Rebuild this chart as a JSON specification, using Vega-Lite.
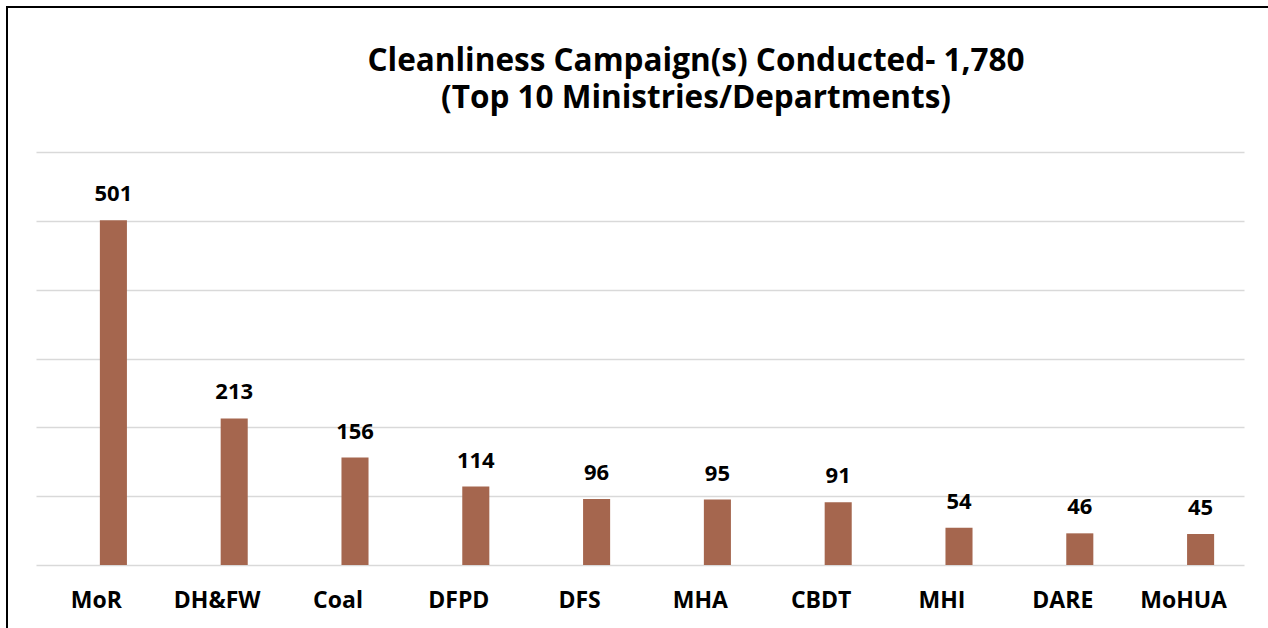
{
  "$schema": "https://vega.github.io/schema/vega-lite/v6.json",
  "autosize": "none",
  "padding": {"left": 7, "top": 7, "right": -3, "bottom": -3},
  "width": 1264,
  "height": 624,
  "background": "white",
  "config": {
    "view": {"stroke": "black", "strokeWidth": 2},
    "font": "Open Sans"
  },
  "title": {
    "text": ["Cleanliness Campaign(s) Conducted- 1,780", "(Top 10 Ministries/Departments)"],
    "anchor": "middle",
    "dx": 57,
    "baseline": "top",
    "dy": 111,
    "fontSize": 31.5,
    "lineHeight": 37,
    "font": "Open Sans",
    "fontWeight": "bold",
    "color": "black"
  },
  "data": {
    "values": [
      {"dept": "MoR", "count": 501},
      {"dept": "DH&FW", "count": 213},
      {"dept": "Coal", "count": 156},
      {"dept": "DFPD", "count": 114},
      {"dept": "DFS", "count": 96},
      {"dept": "MHA", "count": 95},
      {"dept": "CBDT", "count": 91},
      {"dept": "MHI", "count": 54},
      {"dept": "DARE", "count": 46},
      {"dept": "MoHUA", "count": 45}
    ]
  },
  "encoding": {
    "x": {
      "field": "dept",
      "type": "nominal",
      "sort": null,
      "scale": {"range": [29, 1237], "paddingInner": 0, "paddingOuter": 0},
      "axis": {
        "title": null,
        "orient": "bottom",
        "offset": -66,
        "domain": false,
        "ticks": false,
        "grid": false,
        "labelAngle": 0,
        "labelPadding": 24,
        "labelFont": "Open Sans",
        "labelFontSize": 23,
        "labelFontWeight": "bold",
        "labelColor": "black"
      }
    },
    "y": {
      "field": "count",
      "type": "quantitative",
      "scale": {"domain": [0, 600], "range": [558, 145], "nice": false},
      "axis": {
        "title": null,
        "values": [0, 100, 200, 300, 400, 500, 600],
        "labels": false,
        "ticks": false,
        "domain": false,
        "grid": true,
        "gridColor": "#D9D9D9",
        "gridWidth": 1.5
      }
    }
  },
  "layer": [
    {
      "mark": {"type": "bar", "width": {"band": 0.224}, "xOffset": 17, "color": "#A5664E"}
    },
    {
      "mark": {
        "type": "text",
        "xOffset": 17,
        "dy": -19,
        "baseline": "alphabetic",
        "font": "Open Sans",
        "fontSize": 22,
        "fontWeight": "bold",
        "color": "black"
      },
      "encoding": {"text": {"field": "count", "type": "quantitative"}}
    }
  ]
}
